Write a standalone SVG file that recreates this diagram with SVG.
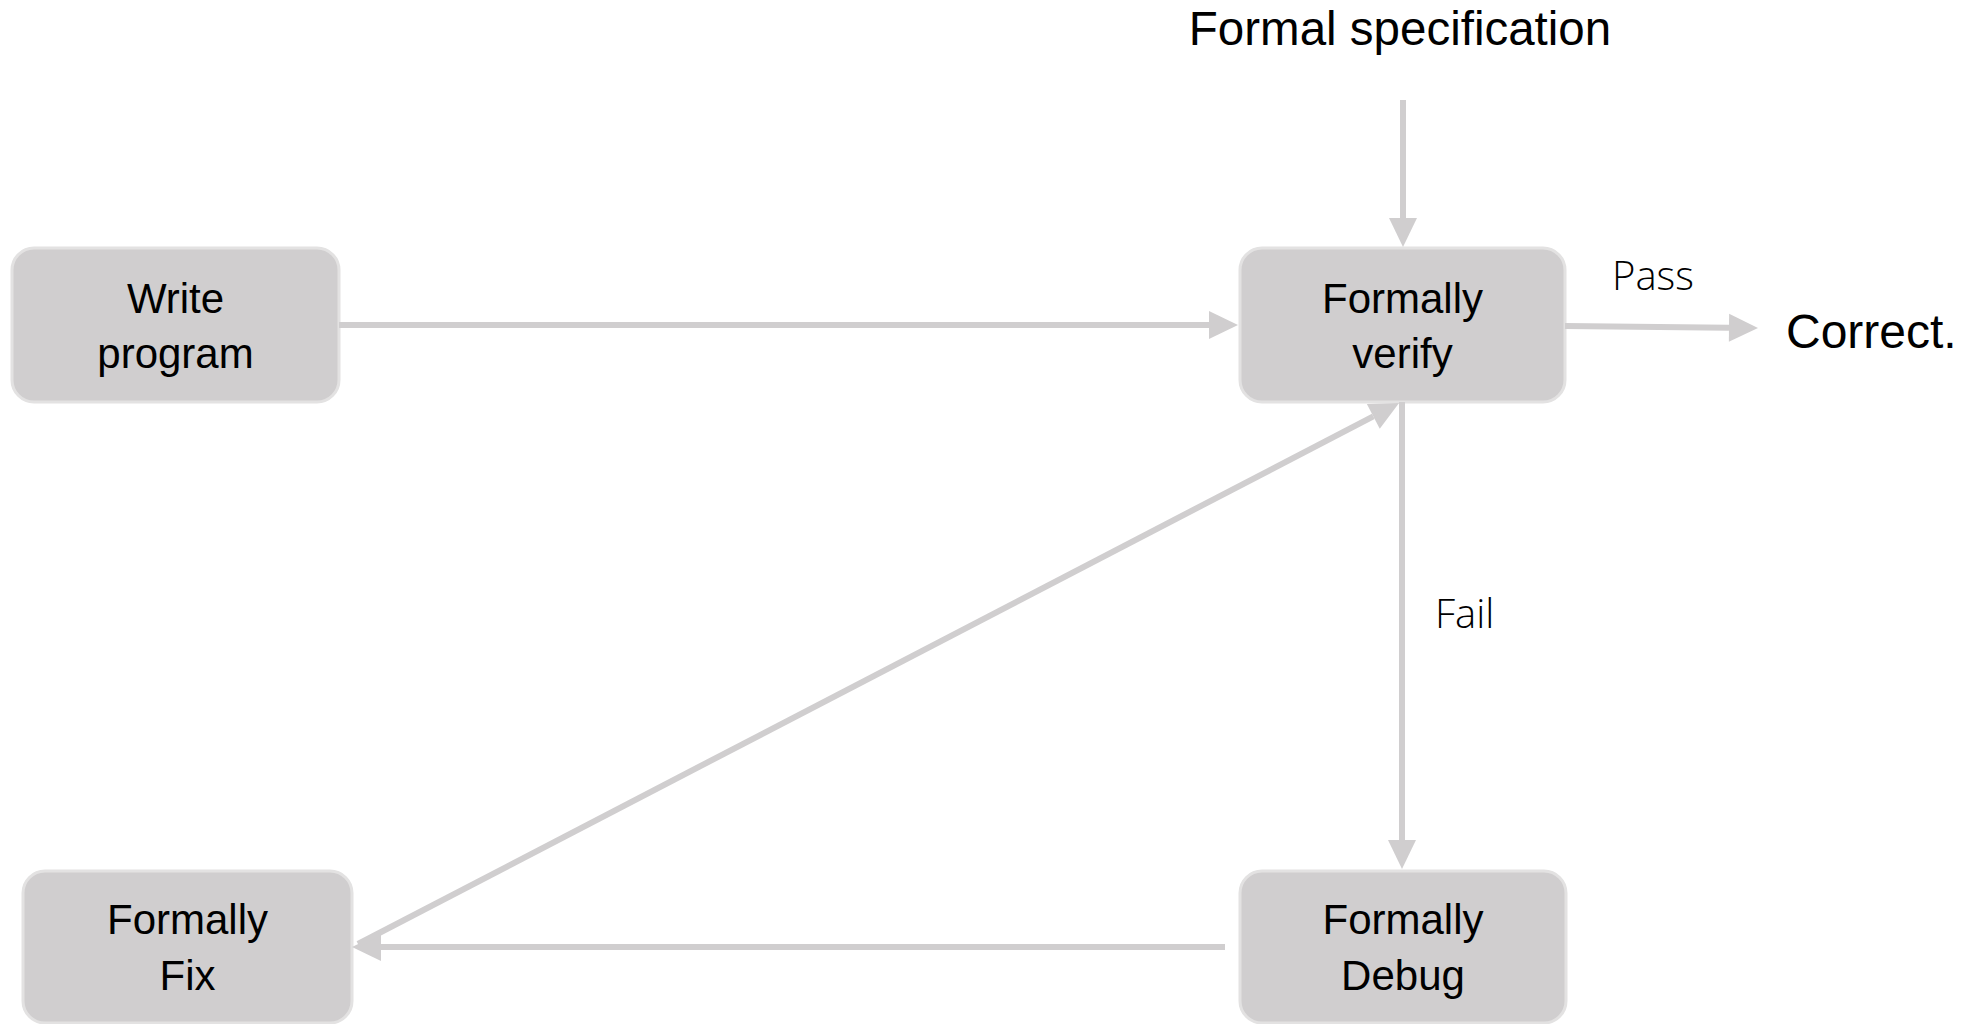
<svg xmlns="http://www.w3.org/2000/svg" width="1964" height="1024" viewBox="0 0 1964 1024">
  <defs>
    <style>
      .box { fill: #d0cecf; stroke: #e3e2e2; stroke-width: 3; }
      .lbl { font-family: "Liberation Sans", Arial, sans-serif; font-size: 42px; fill: #000; text-anchor: middle; }
      .big { font-family: "Liberation Sans", Arial, sans-serif; fill: #000; }
      .thin { font-family: "Open Sans", "Liberation Sans", sans-serif; font-weight: 300; font-size: 40px; fill: #000; }
      .conn { stroke: #d0cecf; stroke-width: 6; fill: none; }
    </style>
    <marker id="arr" markerUnits="userSpaceOnUse" markerWidth="30" markerHeight="30" refX="0" refY="14" orient="auto" overflow="visible">
      <path d="M0,0 L29,14 L0,28 Z" fill="#d0cecf"/>
    </marker>
  </defs>
  <rect width="1964" height="1024" fill="#ffffff"/>

  <g id="formal-spec">
    <text class="big" x="1400" y="45" font-size="47.5" text-anchor="middle">Formal specification</text>
  </g>

  <g id="write-program">
    <rect class="box" x="12" y="248" width="327" height="154" rx="22"/>
    <text class="lbl" x="175.5" y="313">Write</text>
    <text class="lbl" x="175.5" y="368">program</text>
  </g>

  <g id="formally-verify">
    <rect class="box" x="1240" y="248" width="325" height="154" rx="22"/>
    <text class="lbl" x="1402.5" y="313">Formally</text>
    <text class="lbl" x="1402.5" y="368">verify</text>
  </g>

  <g id="formally-fix">
    <rect class="box" x="23" y="871" width="329" height="152" rx="22"/>
    <text class="lbl" x="187.5" y="934">Formally</text>
    <text class="lbl" x="187.5" y="990">Fix</text>
  </g>

  <g id="formally-debug">
    <rect class="box" x="1240" y="871" width="326" height="152" rx="22"/>
    <text class="lbl" x="1403" y="934">Formally</text>
    <text class="lbl" x="1403" y="990">Debug</text>
  </g>

  <g id="correct">
    <text class="big" x="1786" y="348" font-size="48">Correct.</text>
  </g>

  <g id="connectors">
    <path class="conn" d="M1403,100 L1403,218" marker-end="url(#arr)"/>
    <path class="conn" d="M339,325 L1209,325" marker-end="url(#arr)"/>
    <path class="conn" d="M1565,326 L1729,327.7" marker-end="url(#arr)"/>
    <path class="conn" d="M1402,402 L1402,840" marker-end="url(#arr)"/>
    <path class="conn" d="M1225,947 L381,947" marker-end="url(#arr)"/>
    <path class="conn" d="M358,944 L1373.3,416.4" marker-end="url(#arr)"/>
    <text class="thin" x="1612" y="290">Pass</text>
    <text class="thin" x="1435" y="628">Fail</text>
  </g>
</svg>
